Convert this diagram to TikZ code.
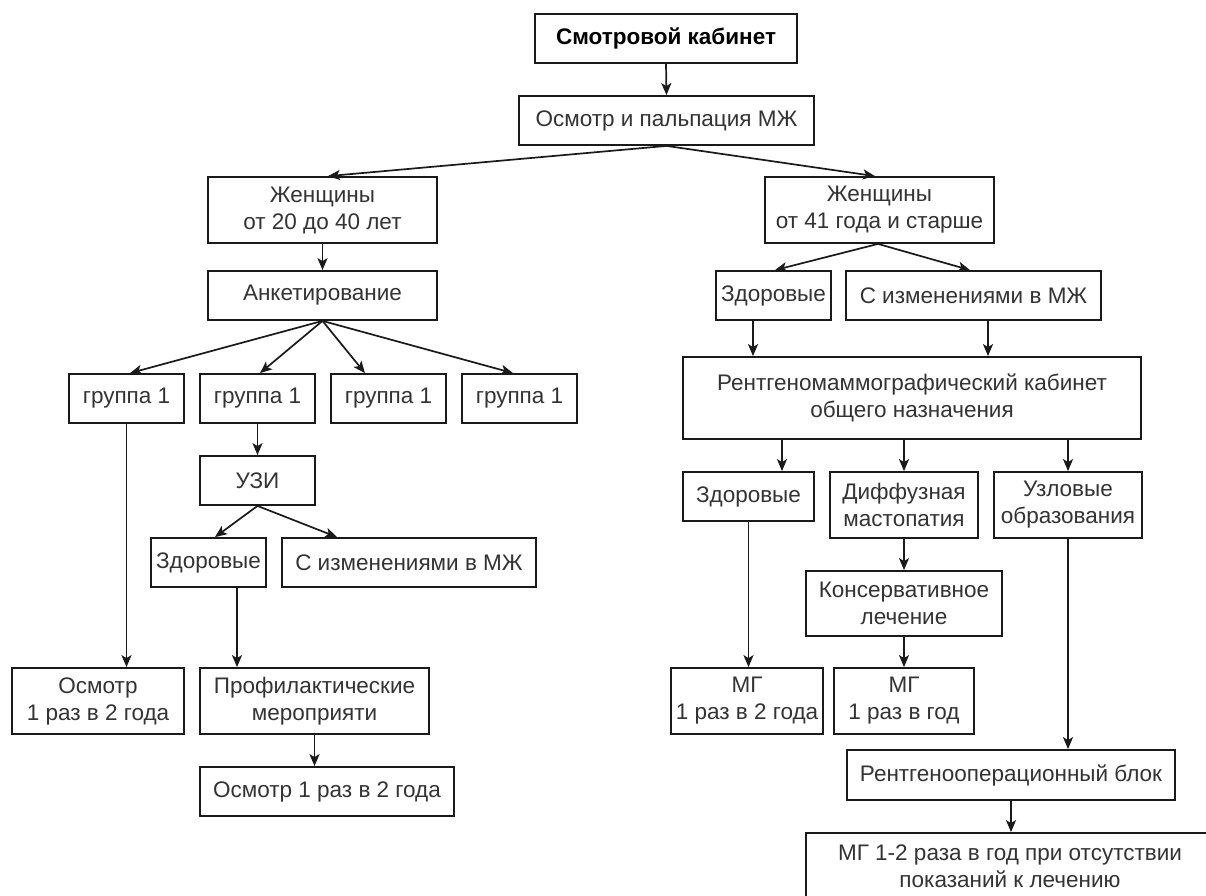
\documentclass[tikz,border=0pt]{standalone}
\usepackage{fontspec}
\setmainfont{Liberation Sans}
\usetikzlibrary{arrows.meta}
\definecolor{ink}{HTML}{333333}
\definecolor{edge}{HTML}{1A1A1A}
\begin{document}
\begin{tikzpicture}[x=1pt,y=-1pt,
  box/.style={draw=edge, line width=1.8pt, rectangle, inner sep=0pt, align=center,
    text=ink, font=\fontsize{22.5}{27}\selectfont},
  arr/.style={draw=edge, line width=1.7pt, -{Stealth[length=12pt,width=10pt,inset=3pt]}}]
\useasboundingbox (0,0) rectangle (1206,895);
\fill[white] (0,0) rectangle (1206,895);
\clip (0,0) rectangle (1206,895);

% top of the chart
\node[box, minimum width=262pt, minimum height=49pt, font=\fontsize{22.5}{27}\selectfont\bfseries, text=black] (top) at (666,38.5) {Смотровой кабинет};
\node[box, minimum width=295pt, minimum height=49pt] (osm) at (666.5,120.5) {Осмотр и пальпация МЖ};

% age groups
\node[box, minimum width=229pt, minimum height=66pt] (w1) at (322.5,210) {Женщины\\от 20 до 40 лет};
\node[box, minimum width=229pt, minimum height=66pt] (w2) at (879.5,210) {Женщины\\от 41 года и старше};

% left branch
\node[box, minimum width=229pt, minimum height=49pt] (anq) at (322.5,295.5) {Анкетирование};
\node[box, minimum width=115pt, minimum height=49pt] (g1) at (126.5,398.5) {группа 1};
\node[box, minimum width=115pt, minimum height=49pt] (g2) at (257.5,398.5) {группа 1};
\node[box, minimum width=115pt, minimum height=49pt] (g3) at (388.5,398.5) {группа 1};
\node[box, minimum width=115pt, minimum height=49pt] (g4) at (519.5,398.5) {группа 1};
\node[box, minimum width=115pt, minimum height=49pt] (uzi) at (257.5,480.5) {УЗИ};
\node[box, minimum width=115pt, minimum height=49pt] (zd1) at (208.5,562.5) {Здоровые};
\node[box, minimum width=254pt, minimum height=49pt] (ch1) at (409,562.5) {С изменениями в МЖ};
\node[box, minimum width=172pt, minimum height=66pt] (osm2) at (98,701) {Осмотр\\1 раз в 2 года};
\node[box, minimum width=229pt, minimum height=66pt] (prof) at (314.5,701) {Профилактические\\мероприяти};
\node[box, minimum width=254pt, minimum height=49pt] (osm3) at (327,791.5) {Осмотр 1 раз в 2 года};

% right branch
\node[box, minimum width=115pt, minimum height=49pt] (zd2) at (773.5,295.5) {Здоровые};
\node[box, minimum width=255pt, minimum height=49pt] (ch2) at (973.5,295.5) {С изменениями в МЖ};
\node[box, minimum width=458pt, minimum height=82pt] (rmk) at (912,398) {Рентгеномаммографический кабинет\\общего назначения};
\node[box, minimum width=131pt, minimum height=49pt] (zd3) at (748.5,496.5) {Здоровые};
\node[box, minimum width=148pt, minimum height=66pt] (dif) at (904,505) {Диффузная\\мастопатия};
\node[box, minimum width=148pt, minimum height=66pt] (uzl) at (1068,505) {Узловые\\образования};
\node[box, minimum width=196pt, minimum height=65pt] (kons) at (904,603.5) {Консервативное\\лечение};
\node[box, minimum width=152pt, minimum height=66pt] (mg1) at (747,701) {МГ\\1 раз в 2 года};
\node[box, minimum width=140pt, minimum height=66pt] (mg2) at (904,701) {МГ\\1 раз в год};
\node[box, minimum width=328pt, minimum height=50pt] (rob) at (1011,775) {Рентгенооперационный блок};
\node[box, minimum width=408pt, minimum height=66pt] (fin) at (1010,866) {МГ 1-2 раза в год при отсутствии\\показаний к лечению};

% connectors
\draw[arr] (top.south) -- (osm.north);
\draw[arr] (osm.south) -- ([xshift=5.5pt]w1.north);
\draw[arr] (osm.south) -- ([xshift=-4.5pt]w2.north);
\draw[arr] (w1.south) -- (anq.north);
\draw[arr] (anq.south) -- ([xshift=3.5pt]g1.north);
\draw[arr] (anq.south) -- ([xshift=2.5pt]g2.north);
\draw[arr] (anq.south) -- ([xshift=-23.5pt]g3.north);
\draw[arr] (anq.south) -- ([xshift=-6.5pt]g4.north);
\draw[arr] (g2.south) -- (uzi.north);
\draw[arr] (g1.south) -- (g1.south |- osm2.north);
\draw[arr] (uzi.south) -- ([xshift=6.5pt]zd1.north);
\draw[arr] (uzi.south) -- ([xshift=-72pt]ch1.north);
\draw[arr] ([xshift=28.5pt]zd1.south) -- ([xshift=28.5pt]zd1.south |- prof.north);
\draw[arr] (prof.south) -- (prof.south |- osm3.north);
\draw[arr] ([xshift=-1.5pt]w2.south) -- ([xshift=1.5pt]zd2.north);
\draw[arr] ([xshift=-1.5pt]w2.south) -- ([xshift=-3.5pt]ch2.north);
\draw[arr] ([xshift=-20.5pt]zd2.south) -- ([xshift=-20.5pt]zd2.south |- rmk.north);
\draw[arr] ([xshift=14.5pt]ch2.south) -- ([xshift=14.5pt]ch2.south |- rmk.north);
\draw[arr] ([xshift=33.5pt]zd3.north |- rmk.south) -- ([xshift=33.5pt]zd3.north);
\draw[arr] (dif.north |- rmk.south) -- (dif.north);
\draw[arr] (uzl.north |- rmk.south) -- (uzl.north);
\draw[arr] (dif.south) -- (kons.north);
\draw[arr] (zd3.south) -- (zd3.south |- mg1.north);
\draw[arr] (kons.south) -- (mg2.north);
\draw[arr] (uzl.south) -- (uzl.south |- rob.north);
\draw[arr] (rob.south) -- (rob.south |- fin.north);
\end{tikzpicture}
\end{document}
